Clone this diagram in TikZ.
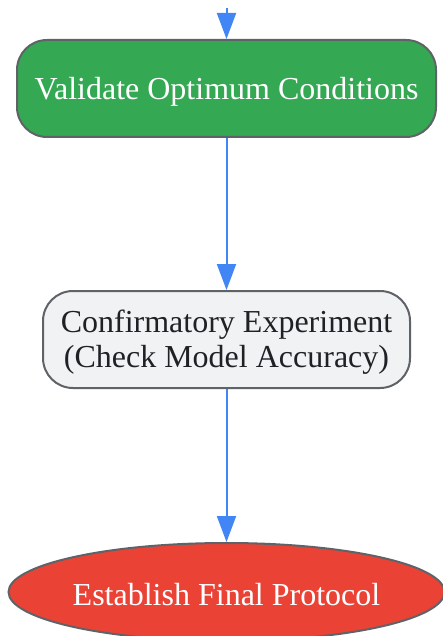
\documentclass[tikz,border=0pt]{standalone}
\usepackage{fontspec}
\setmainfont{Liberation Serif}
\usetikzlibrary{shapes.geometric,arrows.meta}
\definecolor{gborder}{HTML}{5F6368}
\definecolor{ggreen}{HTML}{34A853}
\definecolor{gred}{HTML}{EA4335}
\definecolor{ggrey}{HTML}{F1F2F4}
\definecolor{gblue}{HTML}{4285F4}
\definecolor{gtext}{HTML}{202124}
\newcommand{\lowtext}[1]{\raisebox{-3pt}[\height][\depth]{#1}}
\tikzset{
  base/.style={draw=gborder, line width=2pt, align=center, font=\fontsize{32}{35}\selectfont, inner sep=0pt},
  pill/.style={base, rectangle, rounded corners=30pt},
  oval/.style={base, ellipse},
  conn/.style={draw=gblue, line width=2pt, -{Triangle[length=26pt,width=19pt]}}
}
\begin{document}
\begin{tikzpicture}[x=1pt,y=-1pt]
\useasboundingbox (0,0) rectangle (443,636);
\coordinate (top) at (226.5,8);
\node[pill, fill=ggreen, text=white, minimum width=419pt, minimum height=97pt] (validate) at (226.5,88.5) {\lowtext{Validate Optimum Conditions}};
\node[pill, fill=ggrey, text=gtext, minimum width=367pt, minimum height=97pt] (confirm) at (226.5,339.5) {\lowtext{\begin{tabular}{@{}c@{}}Confirmatory Experiment\\(Check Model Accuracy)\end{tabular}}};
\node[oval, fill=gred, text=white, minimum width=436pt, minimum height=98pt] (final) at (226.5,592) {\lowtext{Establish Final Protocol}};
\draw[conn] (top) -- (validate.north);
\draw[conn] (validate) -- (confirm);
\draw[conn] (confirm) -- (final);
\end{tikzpicture}
\end{document}
